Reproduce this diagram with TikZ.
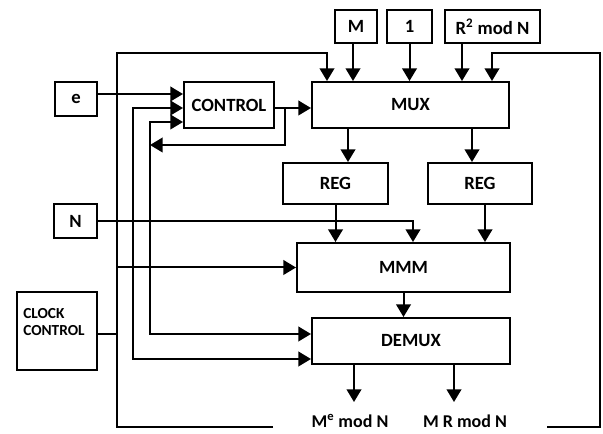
\documentclass[tikz,border=0pt]{standalone}
\usepackage{fontspec}
\setmainfont{Carlito}
\usetikzlibrary{arrows.meta}
\begin{document}
\begin{tikzpicture}[x=0.75pt,y=-0.75pt,
  box/.style={draw,line width=1.5pt,inner sep=0pt,font=\fontsize{14}{16}\selectfont\bfseries},
  wire/.style={line width=1.5pt},
  arr/.style={wire,-{Triangle[length=9.5pt,width=11pt]}},
  arrboth/.style={wire,{Triangle[length=9.5pt,width=11pt]}-{Triangle[length=9.5pt,width=11pt]}},
  lbl/.style={font=\fontsize{13.5}{15}\selectfont\bfseries,inner sep=0pt}]
\useasboundingbox (0,0) rectangle (603,434);
% boxes
\node[box,minimum width=31.5pt,minimum height=25.5pt] (e) at (76,99) {e};
\node[box,minimum width=67.5pt,minimum height=34.5pt] (ctrl) at (229,105) {CONTROL};
\node[box,minimum width=147.75pt,minimum height=34.5pt] (mux) at (410.5,105) {MUX};
\node[box,minimum width=31.5pt,minimum height=24.75pt] (m) at (356,26.5) {M};
\node[box,minimum width=33.75pt,minimum height=24.75pt] (one) at (409.5,26.5) {1};
\node[box,minimum width=71.25pt,minimum height=24.75pt] (r2) at (492.5,26.5) {R\textsuperscript{2} mod N};
\node[box,minimum width=78.75pt,minimum height=30.75pt] (reg1) at (335.5,183.5) {REG};
\node[box,minimum width=78pt,minimum height=30.75pt] (reg2) at (480,183.5) {REG};
\node[box,minimum width=32.25pt,minimum height=25.5pt] (n) at (75.5,221) {N};
\node[box,minimum width=159.75pt,minimum height=36.75pt] (mmm) at (403.5,267.5) {MMM};
\node[box,minimum width=148.5pt,minimum height=34.5pt] (dmx) at (411,341) {DEMUX};
\node[box,minimum width=60pt,minimum height=58.5pt] (clk) at (57,331) {};
\node[anchor=west,align=left,inner sep=0pt,font=\fontsize{11.5}{12.5}\selectfont\bfseries] (clktxt) at (23,322) {CLOCK\\CONTROL};
% output labels
\node[lbl] (o1txt) at (350,421) {M\textsuperscript{e} mod N};
\node[lbl] (o2txt) at (465,421) {M R mod N};
% helper coordinates
\coordinate (top) at (0,53);
\coordinate (bot) at (0,427);
\coordinate (xl) at (117,0);
\coordinate (xv1) at (133,0);
\coordinate (xv2) at (150,0);
\coordinate (xcj) at (285,0);
\coordinate (x327) at (327,0);
\coordinate (x348) at (348,0);
\coordinate (x353) at (353,0);
\coordinate (x413) at (413,0);
\coordinate (x462) at (462,0);
\coordinate (x472) at (472,0);
\coordinate (x485) at (485,0);
\coordinate (x492) at (492,0);
\coordinate (xr) at (600,0);
\coordinate (x354) at (354,0);
\coordinate (x454) at (454,0);
\coordinate (y94) at (0,94);
\coordinate (y108) at (0,108);
\coordinate (y122) at (0,122);
\coordinate (y145) at (0,145);
\coordinate (y334) at (0,334);
\coordinate (y359) at (0,359);
\coordinate (y404) at (0,402);
\coordinate (o1) at (273,427);
\coordinate (o2) at (547,427);
% outer loops
\draw[arr] (o1) -- (xl |- bot) -- (xl |- top) -- (x327 |- top) -- (x327 |- mux.north);
\draw[arr] (o2) -- (xr |- bot) -- (xr |- top) -- (x492 |- top) -- (x492 |- mux.north);
% top inputs
\draw[arr] (x353 |- m.south) -- (x353 |- mux.north);
\draw[arr] (one.south) -- (one.south |- mux.north);
\draw[arr] (x462 |- r2.south) -- (x462 |- mux.north);
% control
\draw[arr] (e.east |- y94) -- (ctrl.west |- y94);
\draw[arr] (ctrl.east |- y108) -- (mux.west |- y108);
\draw[arr] (xcj |- y108) -- (xcj |- y145) -- (xv2 |- y145);
\draw[arrboth] (ctrl.west |- y108) -- (xv1 |- y108) -- (xv1 |- y359) -- (dmx.west |- y359);
\draw[arrboth] (ctrl.west |- y122) -- (xv2 |- y122) -- (xv2 |- y334) -- (dmx.west |- y334);
% clock
\draw[wire] (clk.east |- y334) -- (xl |- y334);
\draw[arr] (xl |- mmm.west) -- (mmm.west);
% N
\draw[arr] (n.east) -- (x413 |- n.east) -- (x413 |- mmm.north);
% mux to regs
\draw[arr] (x348 |- mux.south) -- (x348 |- reg1.north);
\draw[arr] (x472 |- mux.south) -- (x472 |- reg2.north);
% regs to mmm
\draw[arr] (reg1.south) -- (reg1.south |- mmm.north);
\draw[arr] (x485 |- reg2.south) -- (x485 |- mmm.north);
% mmm to demux
\draw[arr] (mmm.south) -- (mmm.south |- dmx.north);
% outputs
\draw[arr] (x354 |- dmx.south) -- (x354 |- y404);
\draw[arr] (x454 |- dmx.south) -- (x454 |- y404);
\end{tikzpicture}
\end{document}
